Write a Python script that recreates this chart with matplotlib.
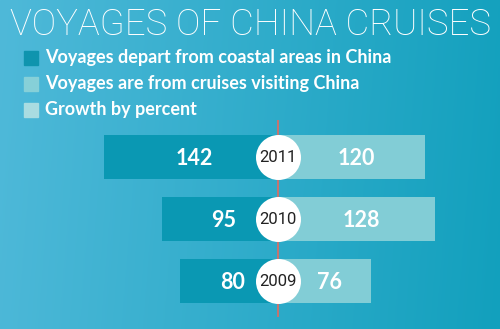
import numpy as np
import matplotlib
matplotlib.use('Agg')
import matplotlib.pyplot as plt
from matplotlib.patches import Rectangle

years = ['2011', '2010', '2009']
depart_coastal = [142, 95, 80]      # left, dark bars
visiting_china = [120, 128, 76]     # right, light bars
legend_labels = ['Voyages depart from coastal areas in China',
                 'Voyages are from cruises visiting China',
                 'Growth by percent']
title = 'VOYAGES OF CHINA CRUISES'

W, H = 500, 329
dark = '#0a98b3'
light = '#82cdd6'
legend_colors = ['#0f94ae', '#86d0d8', '#a9dce1']

fig = plt.figure(figsize=(W / 100, H / 100), dpi=100)

# background gradient
bg = fig.add_axes([0, 0, 1, 1])
bg.set_axis_off()
gx = np.linspace(0, 1, 200)[None, :]
gy = np.linspace(0, 1, 120)[:, None]
c_left = np.array([0x4f, 0xb9, 0xd9]) / 255
c_right = np.array([0x12, 0xa0, 0xbd]) / 255
t = np.clip(gx * 0.95 + gy * 0.05, 0, 1)[..., None]
img = c_left * (1 - t) + c_right * t
bg.imshow(img, aspect='auto', extent=[0, 1, 0, 1])
bg.set_xlim(0, 1)
bg.set_ylim(0, 1)

# main axes: x in value units, 0 at the centre line
ax = fig.add_axes([0, 0, 1, 1])
ax.set_axis_off()
ax.patch.set_alpha(0)
scale = 1.225           # pixels per unit
x0 = 278
ax.set_xlim(-x0 / scale, (W - x0) / scale)
row_px, top_px = 62, 157
ax.set_ylim((H - top_px) / row_px, -top_px / row_px)

ypos = np.arange(len(years))
ax.barh(ypos, [-v for v in depart_coastal], height=44 / row_px, color=dark, zorder=2)
ax.barh(ypos, visiting_china, height=44 / row_px, color=light, zorder=2)

# centre line
ax.plot([0, 0], [(121 - top_px) / row_px, (316 - top_px) / row_px],
        color='#c8736f', lw=1.4, zorder=1)

ax.scatter(np.zeros(len(years)), ypos, s=1050, color='white', zorder=3, linewidths=0)

for i, yr in enumerate(years):
    ax.text(0, i + 0.01, yr, ha='center', va='center', fontsize=12, color='#222222',
            family=['Liberation Sans Narrow', 'Roboto'], zorder=4)
    ax.text(-depart_coastal[i] / 2 + 3, i + 0.02, str(depart_coastal[i]), ha='center', va='center',
            fontsize=15.5, color='white', fontweight='bold', family='Lato', zorder=4)
    ax.text(visiting_china[i] / 2 + 4, i + 0.02, str(visiting_china[i]), ha='center', va='center',
            fontsize=15.5, color='white', fontweight='bold', family='Lato', zorder=4)

# title
fig.text(10 / W, 1 - 35 / H, title, ha='left', va='baseline', fontsize=26.3,
         color='white', family='Roboto', fontweight='light')

# legend
for k, (lab, col) in enumerate(zip(legend_labels, legend_colors)):
    cy = [58, 84, 110][k]
    fig.patches.append(Rectangle((24 / W, 1 - (cy + 7) / H), 14 / W, 14 / H,
                                 transform=fig.transFigure, color=col, figure=fig))
    fig.text(45 / W, 1 - cy / H, lab, ha='left', va='center', fontsize=13,
             color='white', fontweight='bold', family='Lato')

fig.savefig('out.png', dpi=100)
